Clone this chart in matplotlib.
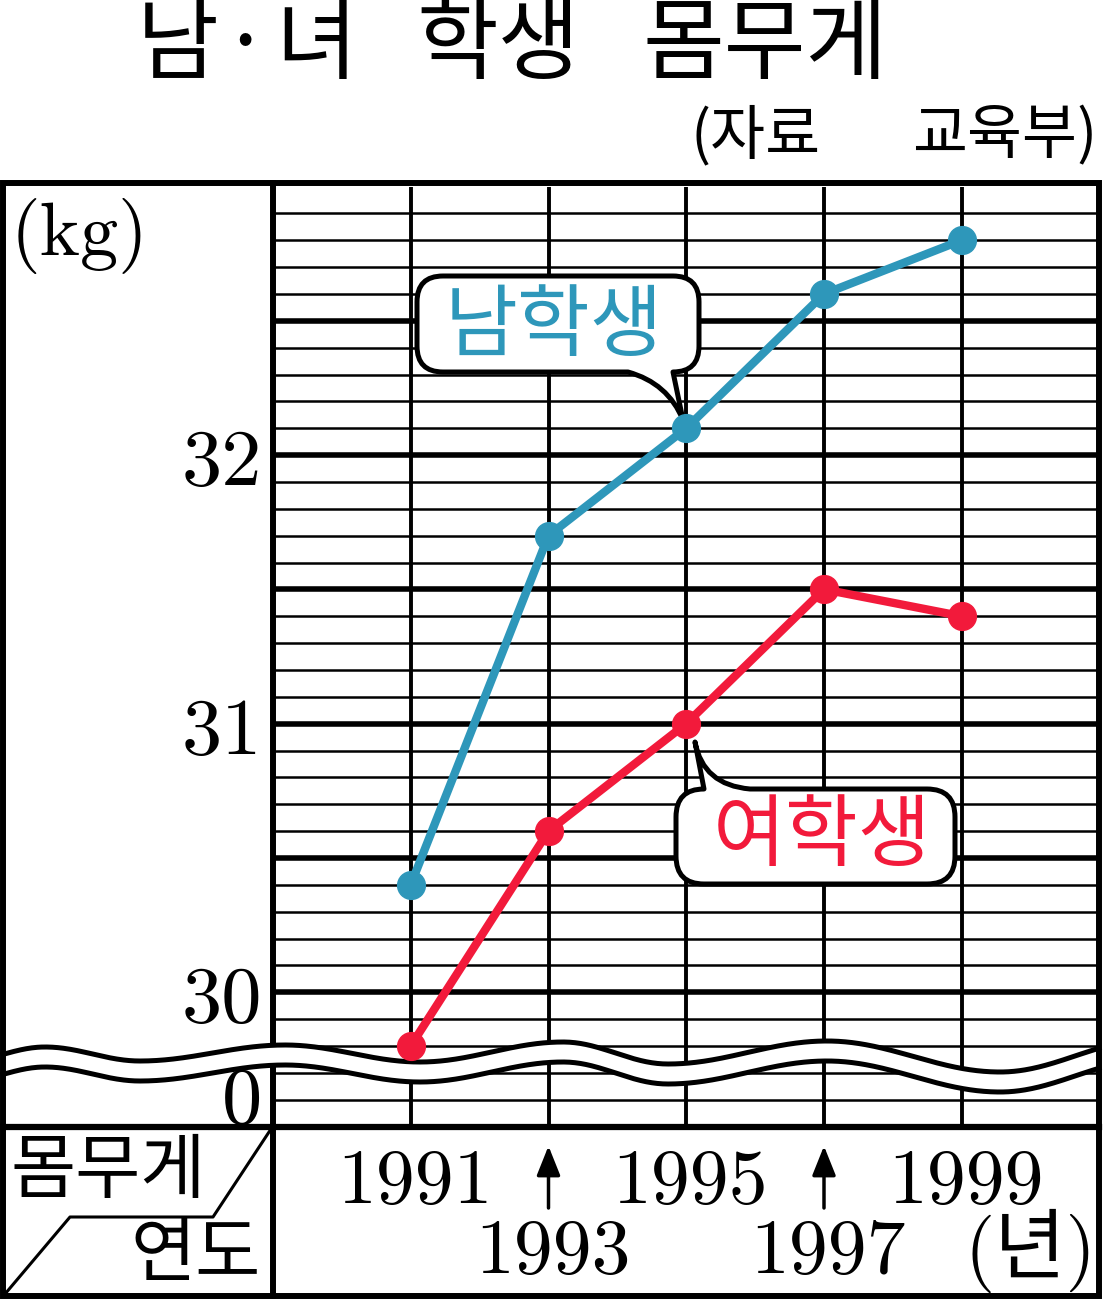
import numpy as np
import matplotlib.pyplot as plt
from matplotlib.path import Path
from matplotlib.patches import PathPatch, Polygon, Rectangle
from matplotlib.transforms import blended_transform_factory, offset_copy

# data (kg)
years = [1991, 1993, 1995, 1997, 1999]
year_labels = ['1991', '1993', '1995', '1997', '1999']
boys = [30.4, 31.7, 32.1, 32.6, 32.8]
girls = [29.8, 30.6, 31.0, 31.5, 31.4]
y_ticks = [30, 31, 32]

TEAL = '#2e97ba'
RED = '#f21a3b'
KR = 'Noto Sans CJK KR'
CM = 'cmr10'

W, H = 1103, 1302
fig = plt.figure(figsize=(W / 100, H / 100), dpi=100)

# pixel coordinate helper axes (y down)
pix = fig.add_axes([0, 0, 1, 1])
pix.set_xlim(0, W)
pix.set_ylim(H, 0)
pix.axis('off')
P = pix.transData

ax = fig.add_axes([273 / W, (H - 1126.5) / H, (1099.5 - 273) / W, (1126.5 - 186.5) / H], zorder=2)
ax.set_xlim(1989, 2001)
ax.set_ylim(29.5, 33.0)
ax.patch.set_visible(False)
ax.axis('off')

XP = blended_transform_factory(ax.transData, P)   # x = year, y = pixel
PY = blended_transform_factory(P, ax.transData)   # x = pixel, y = kg

# grid
for v in np.arange(29.6, 33.0, 0.1):
    v = round(v, 1)
    thick = abs(v * 2 - round(v * 2)) < 1e-6
    ax.axhline(v, color='k', lw=4 if thick else 1.8, zorder=1)
for yr in years:
    ax.axvline(yr, color='k', lw=2.8, zorder=1.2)

# left divider
ax.plot([273, 273], [183, 1296], color='k', lw=4.3, transform=P, clip_on=False, zorder=1.5)

# wavy break
wx = [-40, 45, 140, 285, 420, 563, 668, 827, 1000, 1150]
wy = [1062, 1047, 1061, 1045, 1062, 1042, 1064, 1041, 1072, 1040]


def wave_y(x):
    i = np.clip(np.searchsorted(wx, x) - 1, 0, len(wx) - 2)
    x0 = np.array(wx)[i]
    x1 = np.array(wx)[i + 1]
    y0 = np.array(wy)[i]
    y1 = np.array(wy)[i + 1]
    t = (x - x0) / (x1 - x0)
    return y0 + (y1 - y0) * (1 - np.cos(np.pi * t)) / 2


xs = np.linspace(3, 1099, 800)
up = wave_y(xs)
lo = up + 20
band = Polygon(np.c_[np.r_[xs, xs[::-1]], np.r_[up, lo[::-1]]], closed=True,
               facecolor='white', edgecolor='none', transform=P, zorder=2, clip_on=False)
ax.add_patch(band)
ax.plot(xs, up, color='k', lw=3.6, transform=P, clip_on=False, zorder=2.1)
ax.plot(xs, lo, color='k', lw=3.6, transform=P, clip_on=False, zorder=2.1)

# data lines
ax.plot(years, boys, color=TEAL, lw=6, marker='o', ms=20, zorder=4, clip_on=False)
ax.plot(years, girls, color=RED, lw=6, marker='o', ms=20, zorder=4, clip_on=False)


# speech bubbles
def bubble(x0, y0, x1, y1, r, top=(), bottom=()):
    L, C = Path.LINETO, Path.CURVE3
    verts = [(x0 + r, y0)]
    codes = [Path.MOVETO]
    for c, p in top:
        codes.append(c)
        verts.append(p)
    verts += [(x1 - r, y0), (x1, y0), (x1, y0 + r)]
    codes += [L, C, C]
    verts += [(x1, y1 - r), (x1, y1), (x1 - r, y1)]
    codes += [L, C, C]
    for c, p in bottom:
        codes.append(c)
        verts.append(p)
    verts += [(x0 + r, y1), (x0, y1), (x0, y1 - r)]
    codes += [L, C, C]
    verts += [(x0, y0 + r), (x0, y0), (x0 + r, y0), (x0 + r, y0)]
    codes += [L, C, C, Path.CLOSEPOLY]
    return Path(verts, codes)


L, C = Path.LINETO, Path.CURVE3
p_boy = bubble(417, 276, 699, 372, 26,
               bottom=[(L, (673, 372)), (L, (683, 420)), (C, (668, 383)), (C, (628, 372))])
p_girl = bubble(676, 789, 955, 884, 28,
                top=[(L, (695, 742)), (C, (703, 785)), (C, (750, 789))])
for pth in (p_boy, p_girl):
    ax.add_patch(PathPatch(pth, facecolor='white', edgecolor='k', lw=3.6, joinstyle='round',
                           transform=P, zorder=3.5, clip_on=False))
ax.text(554, 327, '남학생', transform=P, color=TEAL, fontsize=57, family=KR,
        ha='center', va='center', zorder=5)
ax.text(822, 838, '여학생', transform=P, color=RED, fontsize=57, family=KR,
        ha='center', va='center', zorder=5)

# frame and table
ax.add_patch(Rectangle((3, 183), 1096, 1113, fill=False, edgecolor='k', lw=4.3,
                       transform=P, zorder=6, clip_on=False))
ax.plot([3, 1099], [1127, 1127], color='k', lw=4.5, transform=P, clip_on=False, zorder=6)
ax.plot([271, 213, 70, 5], [1129, 1217, 1217, 1294], color='k', lw=2.2,
        transform=P, clip_on=False, zorder=6)
ax.text(108, 1172, '몸무게', transform=P, fontsize=51, family=KR, ha='center', va='center')
ax.text(196, 1255, '연도', transform=P, fontsize=51, family=KR, ha='center', va='center')

# y labels
TY = offset_copy(PY, fig=fig, x=0, y=-30, units='dots')
for v in y_ticks:
    ax.text(262, v, str(v), transform=TY, ha='right', va='baseline', family=CM, fontsize=58)
ax.text(262, 1123, '0', transform=P, ha='right', va='baseline', family=CM, fontsize=58)
ax.text(11, 236, '(kg)', transform=P, ha='left', va='center', family=CM, fontsize=55)

# year labels, staggered in two rows
for i, (yr, lab) in enumerate(zip(years, year_labels)):
    if i % 2 == 0:
        ax.text(yr + 0.06, 1203, lab, transform=XP, ha='center', va='baseline', family=CM, fontsize=56)
    else:
        ax.text(yr + 0.06, 1273, lab, transform=XP, ha='center', va='baseline', family=CM, fontsize=56)
        ax.annotate('', xy=(yr, 1146), xycoords=XP, xytext=(yr, 1208), textcoords=XP,
                    arrowprops=dict(arrowstyle='-|>,head_length=1.0,head_width=0.4',
                                    color='k', lw=2.5, mutation_scale=18,
                                    shrinkA=0, shrinkB=0))
ax.text(2000, 1273, '(년)', transform=XP, ha='center', va='baseline',
        family=[CM, KR], fontsize=56)

# title
for s, x in [('남', 178), ('·', 245), ('녀', 316), ('학생', 498), ('몸무게', 765)]:
    ax.text(x, 47, s, transform=P, fontsize=64, family=KR, weight='light',
            ha='center', va='center')
ax.text(690, 137, '(자료', transform=P, fontsize=43, family=KR, ha='left', va='center')
ax.text(1097, 137, '교육부)', transform=P, fontsize=43, family=KR, ha='right', va='center')

fig.savefig('out.png', dpi=100)
